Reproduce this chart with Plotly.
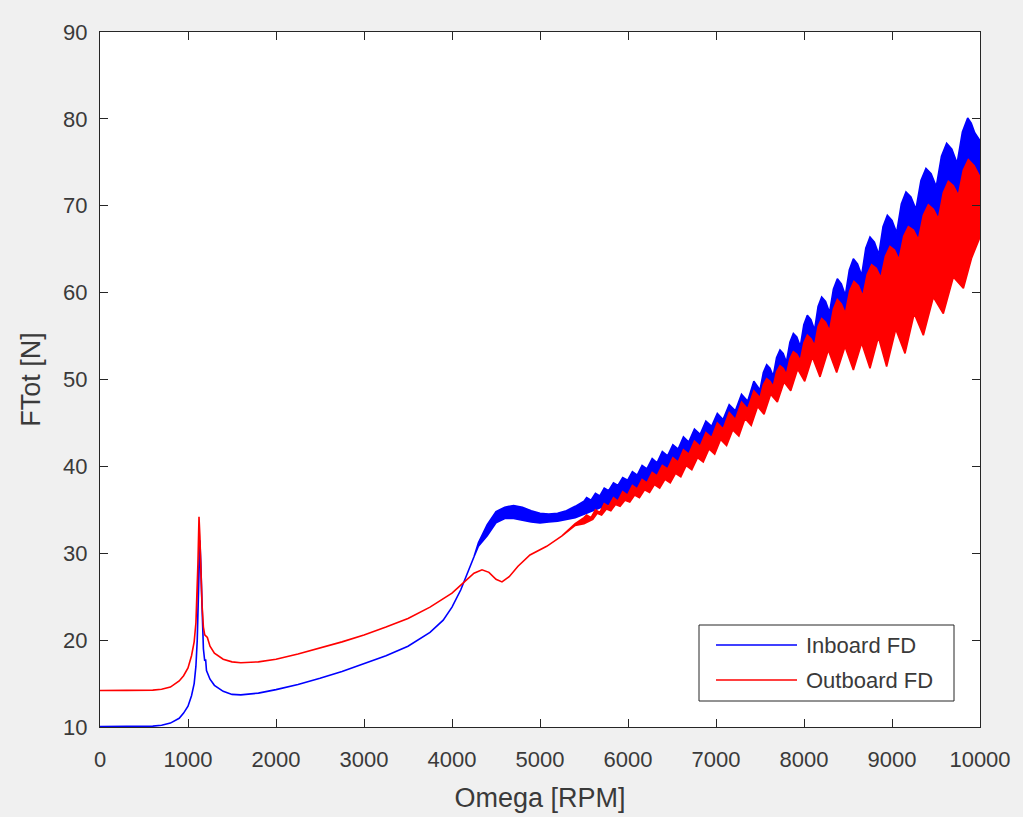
import plotly.graph_objects as go

# ---------------- data ----------------
x_ticks = [0, 1000, 2000, 3000, 4000, 5000, 6000, 7000, 8000, 9000, 10000]
y_ticks = [10, 20, 30, 40, 50, 60, 70, 80, 90]
series_names = ["Inboard FD", "Outboard FD"]

# Inboard FD (blue): thin part of the curve
blue_curve_x = [0, 200, 400, 600, 700, 800, 900, 950, 1000, 1040, 1070, 1090, 1105, 1115, 1125,
                1135, 1145, 1160, 1175, 1190, 1200, 1210, 1250, 1300, 1400, 1500, 1600, 1800,
                2000, 2250, 2500, 2750, 3000, 3250, 3500, 3750, 3900, 4000, 4100, 4150, 4250]
blue_curve_y = [10.05, 10.05, 10.05, 10.1, 10.2, 10.45, 11.0, 11.6, 12.4, 13.6, 15.0, 17.0, 20.0, 24.0, 29.0,
                31.5, 29.0, 23.0, 19.0, 17.6, 17.8, 16.5, 15.5, 14.8, 14.1, 13.75, 13.7, 13.9,
                14.3, 14.9, 15.6, 16.4, 17.3, 18.2, 19.3, 20.9, 22.3, 23.8, 25.8, 27.0, 29.6]
# Inboard FD: upper envelope of the oscillating band (scallop tops and cusps)
blue_upper_x = [4300, 4400, 4500, 4600, 4700, 4800, 4900, 5000, 5100, 5200, 5300, 5400, 5500,
                5530, 5580, 5630, 5680, 5730, 5780, 5835, 5885, 5940, 5995, 6050, 6105, 6160, 6215,
                6275, 6330, 6390, 6450, 6510, 6570, 6630, 6690, 6755, 6820, 6885, 6950, 7015, 7080,
                7150, 7220, 7290, 7360, 7430, 7500,
                7538, 7576, 7613, 7650, 7688, 7727, 7763, 7800, 7840, 7879, 7918, 7958,
                7998, 8038, 8079, 8120, 8160, 8201, 8245, 8290, 8334, 8379, 8424, 8470,
                8515, 8561, 8608, 8655, 8702, 8750, 8800, 8850, 8898, 8947, 9000, 9053,
                9106, 9159, 9215, 9272, 9329, 9386, 9444, 9503, 9562, 9621, 9680, 9740,
                9800, 9860, 9900, 9940, 10000]
blue_upper_y = [31.2, 33.3, 34.8, 35.3, 35.5, 35.3, 34.9, 34.6, 34.5, 34.6, 34.9, 35.4, 36.0,
                36.4, 36.1, 36.9, 36.6, 37.5, 37.2, 38.1, 37.8, 38.7, 38.4, 39.4, 39.0, 40.1, 39.7,
                40.9, 40.4, 41.7, 41.2, 42.5, 42.0, 43.4, 42.8, 44.3, 43.7, 45.2, 44.6, 46.1, 45.4,
                47.1, 46.4, 48.3, 47.5, 49.8, 48.8,
                50.8, 51.7, 51.3, 50.4, 52.5, 53.4, 53.0, 52.0, 54.3, 55.3, 54.9, 53.8,
                56.3, 57.4, 56.9, 55.7, 58.4, 59.5, 59.0, 57.7, 60.4, 61.6, 61.0, 59.7,
                62.6, 63.9, 63.3, 62.0, 65.1, 66.4, 65.8, 64.4, 67.6, 68.9, 68.3, 66.9,
                70.2, 71.6, 71.0, 69.6, 72.9, 74.3, 73.7, 72.2, 75.7, 77.2, 76.5, 74.9,
                78.5, 80.1, 79.5, 78.4, 77.5]
# Inboard FD: lower envelope of the band
blue_lower_x = [4300, 4400, 4500, 4600, 4700, 4800, 4900, 5000, 5100, 5200, 5300, 5400, 5500,
                6000, 6500, 7000, 7500, 8000, 8500, 9000, 9500, 10000]
blue_lower_y = [30.8, 32.0, 33.5, 34.0, 34.0, 33.8, 33.6, 33.5, 33.6, 33.7, 33.9, 34.1, 34.5,
                36.5, 39.3, 42.7, 47.3, 52.0, 56.0, 59.0, 64.0, 69.0]

# Outboard FD (red): thin part of the curve
red_curve_x = [0, 300, 600, 700, 800, 900, 950, 1000, 1040, 1070, 1090, 1105, 1115, 1125, 1135,
               1145, 1160, 1175, 1190, 1220, 1250, 1300, 1400, 1500, 1600, 1800, 2000, 2250, 2500,
               2750, 3000, 3250, 3500, 3750, 4000, 4150, 4250, 4341, 4420, 4500, 4568, 4650, 4750,
               4886, 5076, 5250]
red_curve_y = [14.2, 14.2, 14.25, 14.35, 14.6, 15.3, 15.9, 16.8, 18.2, 19.8, 22.0, 25.5, 29.5, 34.2, 32.0,
               28.5, 24.0, 21.5, 20.6, 20.3, 19.3, 18.5, 17.8, 17.5, 17.4, 17.5, 17.8, 18.4, 19.1,
               19.8, 20.6, 21.5, 22.5, 23.8, 25.4, 26.8, 27.7, 28.1, 27.8, 27.0, 26.7, 27.3, 28.5,
               29.8, 30.8, 32.0]
# Outboard FD: upper envelope of the band
red_upper_x = [5400, 5500, 5530, 5580, 5630, 5680, 5730, 5780, 5835, 5885, 5940, 5995, 6050, 6105,
               6160, 6215, 6275, 6330, 6390, 6450, 6510, 6570, 6630, 6690, 6755, 6820, 6885, 6950,
               7015, 7080, 7150, 7220, 7290, 7360, 7430, 7500,
               7538, 7576, 7613, 7650, 7688, 7727, 7763, 7800, 7840, 7879, 7918, 7958,
               7998, 8038, 8079, 8120, 8160, 8201, 8245, 8290, 8334, 8379, 8424, 8470,
               8519, 8568, 8618, 8668, 8718, 8769, 8821, 8873, 8925, 8977, 9028, 9080,
               9133, 9186, 9243, 9300, 9356, 9413, 9470, 9527, 9583, 9640, 9697, 9754,
               9810, 9867, 9933, 10000]
red_upper_y = [33.4, 34.1, 34.4, 34.1, 35.0, 34.7, 35.7, 35.4, 36.4, 36.0, 37.1, 36.7, 37.8, 37.4,
               38.5, 38.1, 39.3, 38.9, 40.1, 39.7, 41.0, 40.5, 41.9, 41.4, 42.9, 42.3, 43.9, 43.3,
               45.0, 44.3, 46.2, 45.4, 47.4, 46.6, 48.7, 47.9,
               49.4, 50.1, 49.8, 49.2, 50.9, 51.6, 51.3, 50.6, 52.4, 53.2, 52.9, 52.2,
               54.2, 55.1, 54.7, 53.9, 56.1, 57.0, 56.6, 55.6, 58.1, 59.2, 58.7, 57.6,
               60.2, 61.3, 60.8, 59.6, 62.1, 63.2, 62.8, 61.7, 64.2, 65.3, 64.9, 63.8,
               66.5, 67.6, 67.2, 66.1, 68.9, 70.1, 69.6, 68.5, 71.5, 72.8, 72.3, 71.2,
               74.1, 75.3, 74.6, 73.3]
# Outboard FD: lower envelope of the band (spikes and the notches between them)
red_lower_x = [5400, 5500, 5600, 5650, 5700, 5755, 5805, 5858, 5910, 5965, 6020, 6075, 6130, 6188,
               6245, 6300, 6360, 6420, 6480, 6540, 6600, 6662, 6725, 6790, 6855, 6920, 6985, 7052,
               7120, 7190, 7260, 7330, 7400, 7473, 7546, 7621, 7697, 7773, 7849, 7928, 8008, 8095,
               8182, 8276, 8371, 8466, 8561, 8655, 8750, 8845, 8939, 9043, 9148, 9252, 9356, 9470,
               9583, 9697, 9811, 9905, 10000]
red_lower_y = [33.2, 33.4, 33.9, 34.6, 34.4, 35.1, 34.9, 35.6, 35.4, 36.1, 35.9, 36.7, 36.4, 37.3,
               37.0, 37.9, 37.5, 38.5, 38.1, 39.2, 38.8, 40.1, 39.6, 41.0, 40.5, 42.0, 41.4, 43.1,
               42.4, 44.2, 43.5, 45.5, 44.7, 46.9, 46.0, 48.3, 47.4, 49.7, 48.7, 51.2, 49.8, 52.6,
               50.3, 53.4, 50.8, 53.8, 51.1, 54.2, 51.3, 54.9, 51.5, 55.8, 53.0, 57.6, 55.1, 59.5,
               57.6, 61.8, 60.5, 64.0, 66.4]

BLUE = "rgb(0,0,255)"
RED = "rgb(255,0,0)"
AXIS = "#262626"
TEXT = "#3a3a3a"
FONT = "Liberation Sans, Arial, sans-serif"


def band(curve_x, curve_y, up_x, up_y, lo_x, lo_y):
    xs = list(curve_x) + list(up_x) + list(lo_x)[::-1] + list(curve_x)[::-1]
    ys = list(curve_y) + list(up_y) + list(lo_y)[::-1] + list(curve_y)[::-1]
    return xs, ys


fig = go.Figure()
bx, by = band(blue_curve_x, blue_curve_y, blue_upper_x, blue_upper_y, blue_lower_x, blue_lower_y)
rx, ry = band(red_curve_x, red_curve_y, red_upper_x, red_upper_y, red_lower_x, red_lower_y)
fig.add_trace(go.Scatter(x=bx, y=by, mode="lines", fill="toself", fillcolor=BLUE,
                         line=dict(color=BLUE, width=1.6), name=series_names[0],
                         showlegend=False, hoverinfo="skip"))
fig.add_trace(go.Scatter(x=rx, y=ry, mode="lines", fill="toself", fillcolor=RED,
                         line=dict(color=RED, width=1.6), name=series_names[1],
                         showlegend=False, hoverinfo="skip"))

# plot area in pixels: x 100..980, y 32..727
W, H = 1023, 817
L, R, T, B = 100, 43, 32, 90
pw, ph = W - L - R, H - T - B


def px(xp):
    return (xp - L) / pw


def py(yp):
    return (H - B - yp) / ph


# MATLAB-style legend box
shapes = [dict(type="rect", xref="paper", yref="paper", x0=px(699), x1=px(954), y0=py(701), y1=py(625),
               line=dict(color=AXIS, width=1), fillcolor="white", layer="above")]
annotations = []
for i, (name, col) in enumerate(zip(series_names, [BLUE, RED])):
    yy = 645 + i * 35
    shapes.append(dict(type="line", xref="paper", yref="paper", x0=px(716), x1=px(797),
                       y0=py(yy), y1=py(yy), line=dict(color=col, width=1.6), layer="above"))
    annotations.append(dict(text=name, xref="paper", yref="paper", x=px(804), y=py(yy),
                            xanchor="left", yanchor="middle", showarrow=False,
                            font=dict(family=FONT, size=22, color=TEXT)))

fig.update_layout(
    width=W, height=H, autosize=False,
    margin=dict(l=L, r=R, t=T, b=B),
    paper_bgcolor="#f0f0f0", plot_bgcolor="white",
    font=dict(family=FONT, size=22, color=TEXT),
    showlegend=False,
    shapes=shapes, annotations=annotations,
    xaxis=dict(range=[0, 10000], tickvals=x_ticks, ticktext=[str(v) for v in x_ticks],
               ticks="inside", ticklen=8, tickcolor=AXIS, showline=True, linecolor=AXIS, linewidth=1,
               mirror="ticks", showgrid=False, zeroline=False, ticklabelstandoff=13, automargin=False,
               tickfont=dict(size=22, color=TEXT),
               title=dict(text="Omega [RPM]", font=dict(size=27, color=TEXT), standoff=16)),
    yaxis=dict(range=[10, 90], tickvals=y_ticks, ticktext=[str(v) for v in y_ticks],
               ticks="inside", ticklen=8, tickcolor=AXIS, showline=True, linecolor=AXIS, linewidth=1,
               mirror="ticks", showgrid=False, zeroline=False, ticklabelstandoff=7, automargin=False,
               tickfont=dict(size=22, color=TEXT),
               title=dict(text="FTot [N]", font=dict(size=27, color=TEXT), standoff=14)),
)

fig.write_html("out.html")
